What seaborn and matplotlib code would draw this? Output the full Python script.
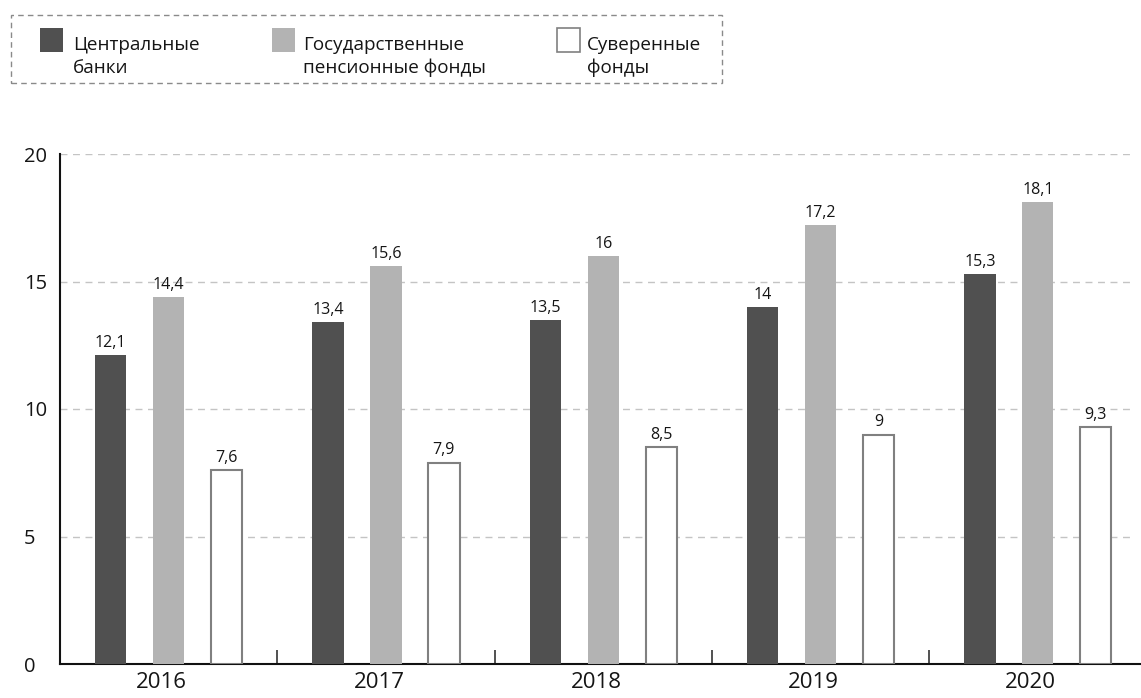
import matplotlib
matplotlib.use("Agg")
import matplotlib.pyplot as plt
import matplotlib.transforms as mtransforms
import seaborn as sns
import pandas as pd
from matplotlib.patches import Rectangle

# Data (trillions, per year and investor type)
years = ["2016", "2017", "2018", "2019", "2020"]
series_names = ["Центральные\nбанки", "Государственные\nпенсионные фонды", "Суверенные\nфонды"]
central_banks = [12.1, 13.4, 13.5, 14.0, 15.3]
pension_funds = [14.4, 15.6, 16.0, 17.2, 18.1]
sovereign_funds = [7.6, 7.9, 8.5, 9.0, 9.3]
y_ticks = [0, 5, 10, 15, 20]

colors = ["#505050", "#b3b3b3", "#ffffff"]
edge_white = "#808080"
text_color = "#151515"

sns.set_theme(style="white")
plt.rcParams["font.family"] = ["Open Sans", "DejaVu Sans"]

rows = []
for name, vals in zip(series_names, [central_banks, pension_funds, sovereign_funds]):
    for y, v in zip(years, vals):
        rows.append({"year": y, "type": name, "value": v})
df = pd.DataFrame(rows)

W, H = 1141, 698
fig = plt.figure(figsize=(W / 100, H / 100), dpi=100)


def fx(px):
    return px / W


def fy(py):
    return 1 - py / H


ax = fig.add_axes([fx(60), 34 / H, (W - 60) / W, 510 / H])

sns.barplot(data=df, x="year", y="value", hue="type", order=years,
            hue_order=series_names, palette=colors, width=0.8, gap=0.46,
            linewidth=0, errorbar=None, legend=False, ax=ax, zorder=3)

for i, cont in enumerate(ax.containers):
    if i == 2:
        for bar in cont:
            bar.set_edgecolor(edge_white)
            bar.set_linewidth(1.5)
    labels = [f"{v:g}".replace(".", ",") for v in cont.datavalues]
    ax.bar_label(cont, labels=labels, padding=3, fontsize=11.5, color=text_color)

ax.set_ylim(0, 20)
ax.set_xlim(-0.5, -0.5 + (W - 60) / 217.3)

# y axis: left-aligned labels, no tick marks
ax.set_yticks(y_ticks)
ax.set_yticklabels([str(t) for t in y_ticks], fontsize=14.5, color=text_color)
ax.tick_params(axis="y", length=0, pad=26)
for lbl in ax.get_yticklabels():
    lbl.set_horizontalalignment("left")

# x axis: year labels at group centres, separators between groups
ax.set_xticks(range(len(years)))
ax.set_xticklabels(years, fontsize=16, color=text_color)
ax.tick_params(axis="x", which="major", length=0, pad=6)
shift = mtransforms.ScaledTranslation(-7 / 100, 0, fig.dpi_scale_trans)
for lbl in ax.get_xticklabels():
    lbl.set_transform(lbl.get_transform() + shift)
ax.set_xticks([0.5, 1.5, 2.5, 3.5], minor=True)
ax.tick_params(axis="x", which="minor", direction="in", length=10, width=1.2,
               color="#333333", bottom=True)

ax.set_xlabel("")
ax.set_ylabel("")

for t in [5, 10, 15, 20]:
    ax.axhline(t, color="#c4c4c4", lw=1, ls=(0, (5, 4)), zorder=1,
               xmax=(1135 - 60) / (W - 60))

for side in ["top", "right"]:
    ax.spines[side].set_visible(False)
for side in ["left", "bottom"]:
    ax.spines[side].set_color("#111111")
    ax.spines[side].set_linewidth(1.5)

# Legend: dashed frame with three two-line entries
fig.add_artist(Rectangle((fx(11), fy(83)), fx(722) - fx(11), fy(15) - fy(83),
                         transform=fig.transFigure, fill=False,
                         edgecolor="#8a8a8a", lw=1, ls=(0, (4, 3))))
swatch_x = [40, 272, 557]
text_x = [73, 303, 587]
for name, color, sx, tx in zip(series_names, colors, swatch_x, text_x):
    edge = edge_white if color == "#ffffff" else "none"
    fig.add_artist(Rectangle((fx(sx), fy(52)), fx(23), 24 / H,
                             transform=fig.transFigure, facecolor=color,
                             edgecolor=edge, lw=1.2))
    for k, line in enumerate(name.split("\n")):
        fig.text(fx(tx), fy(50 + 23 * k), line, fontsize=13.6,
                 color=text_color, ha="left", va="baseline")

fig.savefig("out.png", dpi=100)
